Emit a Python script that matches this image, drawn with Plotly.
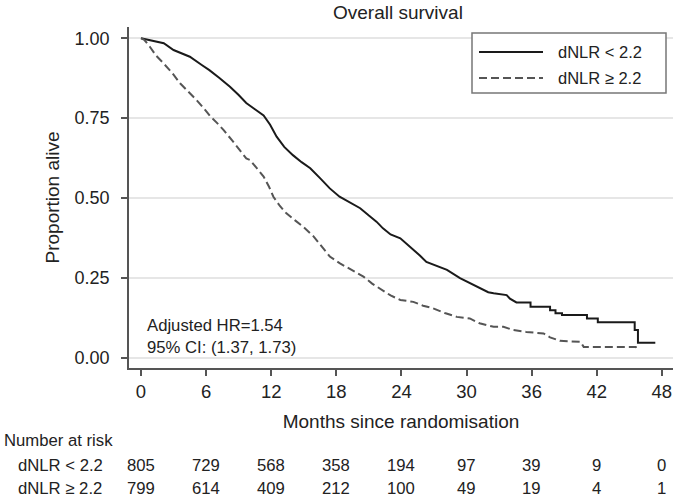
import plotly.graph_objects as go

# ---- data ----
low_months = [0, 1, 2.1, 3.0, 4.5, 5.6, 6.3, 7.2, 8.2, 9.0, 9.7, 10.4, 11.0, 11.3, 11.9,
              12.5, 13.2, 14.0, 14.8, 15.6, 16.5, 17.4, 18.3, 19.2, 20.2, 21.0, 21.7,
              22.3, 23.0, 23.9, 25.1, 25.7, 26.3, 27.2, 28.2, 29.4, 30.3, 31.2, 32.0,
              32.5, 33.7, 34.0, 34.6, 35.9, 35.9, 37.7, 37.7, 38.2, 38.2, 38.8, 38.8,
              41.1, 41.1, 42.1, 42.1, 45.5, 45.5, 45.8, 45.8, 47.4]
low_surv = [1.0, 0.993, 0.984, 0.963, 0.942, 0.916, 0.900, 0.876, 0.848, 0.822, 0.797,
            0.780, 0.765, 0.758, 0.729, 0.692, 0.660, 0.634, 0.612, 0.593, 0.562, 0.530,
            0.504, 0.487, 0.468, 0.445, 0.426, 0.405, 0.386, 0.374, 0.340, 0.320, 0.300,
            0.287, 0.275, 0.249, 0.233, 0.217, 0.205, 0.202, 0.196, 0.185, 0.173, 0.173,
            0.160, 0.160, 0.149, 0.149, 0.139, 0.139, 0.134, 0.134, 0.123, 0.123, 0.111,
            0.111, 0.087, 0.087, 0.047, 0.047]

high_months = [0, 0.3, 0.8, 1.4, 2.06, 2.9, 3.6, 4.4, 5.1, 5.8, 6.4, 7.0, 7.6, 8.4, 9.1,
               9.7, 10.05, 10.7, 11.3, 11.8, 12.2, 12.8, 13.4, 14.2, 14.95, 15.9, 16.8,
               17.4, 18.3, 19.4, 20.5, 21.3, 22.0, 23.0, 23.9, 25.1, 26.0, 26.9, 28.0,
               29.1, 30.3, 31.2, 32.5, 33.4, 34.3, 35.5, 37.1, 37.7, 38.6, 40.5, 40.8,
               45.6, 45.7]
high_surv = [1.0, 0.995, 0.974, 0.945, 0.922, 0.890, 0.859, 0.832, 0.807, 0.780, 0.755,
             0.735, 0.713, 0.680, 0.650, 0.624, 0.619, 0.592, 0.567, 0.535, 0.504, 0.475,
             0.452, 0.430, 0.410, 0.380, 0.343, 0.317, 0.296, 0.275, 0.254, 0.232, 0.217,
             0.195, 0.181, 0.175, 0.163, 0.155, 0.140, 0.128, 0.123, 0.108, 0.097, 0.097,
             0.087, 0.081, 0.076, 0.064, 0.053, 0.050, 0.034, 0.034, 0.019]

group_labels = ["dNLR < 2.2", "dNLR \u2265 2.2"]
risk_months = [0, 6, 12, 18, 24, 30, 36, 42, 48]
risk_low = [805, 729, 568, 358, 194, 97, 39, 9, 0]
risk_high = [799, 614, 409, 212, 100, 49, 19, 4, 1]
y_ticks = [0, 0.25, 0.5, 0.75, 1.0]
x_ticks = [0, 6, 12, 18, 24, 30, 36, 42, 48]

W, H = 673, 499
L, R, T, B = 129, 0, 27, 131
PW, PH = W - L - R, H - T - B
FONT = "Liberation Sans, Arial, sans-serif"
TXT = "#222222"


def px_x(p):
    return (p - L) / PW


def px_y(p):
    return (H - B - p) / PH


fig = go.Figure()
fig.add_trace(go.Scatter(x=low_months, y=low_surv, mode="lines", name=group_labels[0],
                         line=dict(color="#1a1a1a", width=2), showlegend=False))
fig.add_trace(go.Scatter(x=high_months, y=high_surv, mode="lines", name=group_labels[1],
                         line=dict(color="#555555", width=2, dash="8px,4px"), showlegend=False))

ann = []
ann.append(dict(text="Overall survival", xref="paper", yref="paper", x=0.495, y=px_y(12),
                showarrow=False, font=dict(size=19, color=TXT), xanchor="center", yanchor="middle"))
ann.append(dict(text="Adjusted HR=1.54<br>95% CI: (1.37, 1.73)", xref="paper", yref="paper",
                x=px_x(145), y=px_y(336), showarrow=False, align="left",
                font=dict(size=16.7, color=TXT), xanchor="left", yanchor="middle"))
shapes = []
shapes.append(dict(type="rect", xref="paper", yref="paper", x0=px_x(472), x1=px_x(666),
                   y0=px_y(93), y1=px_y(33), line=dict(color="#777", width=1.5),
                   fillcolor="white", layer="above"))
shapes.append(dict(type="line", xref="paper", yref="paper", x0=px_x(479), x1=px_x(543),
                   y0=px_y(52), y1=px_y(52), line=dict(color="#1a1a1a", width=2), layer="above"))
shapes.append(dict(type="line", xref="paper", yref="paper", x0=px_x(479), x1=px_x(543),
                   y0=px_y(78), y1=px_y(78), line=dict(color="#555555", width=2, dash="8px,4px"),
                   layer="above"))
for lab, py in zip(group_labels, [52, 78]):
    ann.append(dict(text=lab, xref="paper", yref="paper", x=px_x(556), y=px_y(py),
                    showarrow=False, xanchor="left", yanchor="middle",
                    font=dict(size=16.5, color=TXT)))
ann.append(dict(text="Number at risk", xref="paper", yref="paper", x=px_x(2), y=px_y(440),
                showarrow=False, xanchor="left", yanchor="middle", font=dict(size=16.7, color=TXT)))
for lab, vals, py in zip(group_labels, [risk_low, risk_high], [465, 488]):
    ann.append(dict(text=lab, xref="paper", yref="paper", x=px_x(16), y=px_y(py),
                    showarrow=False, xanchor="left", yanchor="middle",
                    font=dict(size=16.7, color=TXT)))
    for m, v in zip(risk_months, vals):
        ann.append(dict(text=str(v), xref="x", yref="paper", x=m, y=px_y(py),
                        showarrow=False, xanchor="center", yanchor="middle",
                        font=dict(size=16.7, color=TXT)))

fig.update_layout(
    width=W, height=H,
    margin=dict(l=L, r=R, t=T, b=B, pad=0),
    paper_bgcolor="white", plot_bgcolor="white",
    font=dict(family=FONT, color=TXT),
    annotations=ann, shapes=shapes, showlegend=False,
    xaxis=dict(range=[-1.106, 49.03], tickvals=x_ticks, showgrid=False, zeroline=False,
               showline=True, linecolor="#555", linewidth=1.5, ticks="outside", ticklen=6,
               tickcolor="#555", tickwidth=1.5, tickfont=dict(size=18.5, color=TXT),
               title=dict(text="Months since randomisation", font=dict(size=19, color=TXT),
                          standoff=14)),
    yaxis=dict(range=[-0.032, 1.035], tickvals=y_ticks, tickformat=".2f", showgrid=True,
               gridcolor="#e6e6e6", gridwidth=1.5, zeroline=False,
               showline=True, linecolor="#555", linewidth=1.5, ticks="outside", ticklen=6,
               tickcolor="#555", tickwidth=1.5, tickfont=dict(size=18, color=TXT),
               ticklabelstandoff=8,
               title=dict(text="Proportion alive", font=dict(size=19, color=TXT), standoff=10)),
)

fig.write_html("out.html", config={"displayModeBar": False},
               post_script="document.body.style.margin='0';"
               "document.body.style.overflow='hidden';")
